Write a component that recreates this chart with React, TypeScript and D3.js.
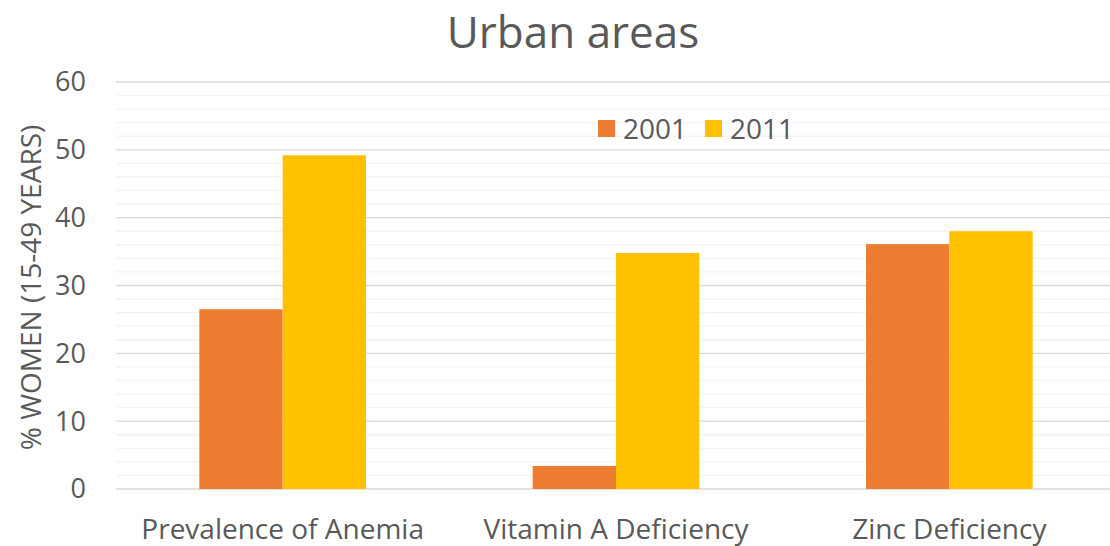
import React, { useEffect, useRef } from 'react';
import * as d3 from 'd3';

const categories = ['Prevalence of Anemia', 'Vitamin A Deficiency', 'Zinc Deficiency'];
const seriesNames = ['2001', '2011'];
const values2001 = [26.5, 3.4, 36.1];
const values2011 = [49.2, 34.8, 38.0];
const yTicks = [0, 10, 20, 30, 40, 50, 60];
const colors = ['#ed7d31', '#ffc000'];

const App = () => {
  const ref = useRef<SVGSVGElement>(null);

  useEffect(() => {
    const width = 1110;
    const height = 546;
    const margin = { top: 82, left: 116, bottom: 57, right: -6 };
    const iwidth = width - margin.left - margin.right;
    const iheight = height - margin.top - margin.bottom;
    const font = 'Open Sans, sans-serif';
    const textColor = '#595959';

    const svg = d3.select(ref.current);
    svg.selectAll('*').remove();
    svg.attr('width', width).attr('height', height);

    const g = svg.append('g').attr('transform', `translate(${margin.left},${margin.top})`);

    const y = d3.scaleLinear().domain([0, 60]).range([iheight, 0]);
    const x = d3.scaleBand().domain(categories).range([0, iwidth]).paddingInner(0.5).paddingOuter(0.25);
    const xs = d3.scaleBand().domain(seriesNames).range([0, x.bandwidth()]);

    // minor gridlines
    g.selectAll('line.minor')
      .data(d3.range(0, 61, 2).filter((v) => v % 10 !== 0))
      .enter()
      .append('line')
      .attr('x1', 0)
      .attr('x2', iwidth)
      .attr('y1', (d) => y(d))
      .attr('y2', (d) => y(d))
      .attr('stroke', '#f2f2f2')
      .attr('stroke-width', 1.3);

    // major gridlines
    g.selectAll('line.major')
      .data(yTicks)
      .enter()
      .append('line')
      .attr('x1', 0)
      .attr('x2', iwidth)
      .attr('y1', (d) => y(d))
      .attr('y2', (d) => y(d))
      .attr('stroke', '#d9d9d9')
      .attr('stroke-width', 1.3);

    const rows = categories.map((c, i) => ({ c, vals: [values2001[i], values2011[i]] }));
    const groups = g.selectAll('g.grp').data(rows).enter().append('g')
      .attr('transform', (d) => `translate(${x(d.c)},0)`);
    groups.selectAll('rect')
      .data((d) => d.vals.map((v, j) => ({ v, s: seriesNames[j], j })))
      .enter()
      .append('rect')
      .attr('x', (d) => xs(d.s)!)
      .attr('y', (d) => y(d.v))
      .attr('width', xs.bandwidth())
      .attr('height', (d) => iheight - y(d.v))
      .attr('fill', (d) => colors[d.j]);

    // y tick labels
    g.selectAll('text.ytick')
      .data(yTicks)
      .enter()
      .append('text')
      .attr('x', -30)
      .attr('y', (d) => y(d))
      .attr('dy', '0.35em')
      .attr('text-anchor', 'end')
      .attr('font-family', font)
      .attr('font-size', 27)
      .attr('fill', textColor)
      .text((d) => d);

    // x labels
    g.selectAll('text.xlab')
      .data(categories)
      .enter()
      .append('text')
      .attr('x', (d) => x(d)! + x.bandwidth() / 2)
      .attr('y', iheight + 50)
      .attr('text-anchor', 'middle')
      .attr('font-family', font)
      .attr('font-size', 28)
      .attr('fill', textColor)
      .text((d) => d);

    // y axis title
    svg.append('text')
      .attr('transform', `translate(41,${margin.top + iheight / 2 + 2}) rotate(-90)`)
      .attr('text-anchor', 'middle')
      .attr('font-family', font)
      .attr('font-size', 28)
      .attr('fill', textColor)
      .text('% WOMEN (15-49 YEARS)');

    // title
    svg.append('text')
      .attr('x', 573)
      .attr('y', 48)
      .attr('text-anchor', 'middle')
      .attr('font-family', font)
      .attr('font-size', 44)
      .attr('fill', textColor)
      .text('Urban areas');

    // legend
    const legend = svg.append('g').attr('transform', 'translate(598,120)');
    const items = legend.selectAll('g').data(seriesNames).enter().append('g')
      .attr('transform', (d, i) => `translate(${i * 107},0)`);
    items.append('rect').attr('width', 17).attr('height', 17).attr('fill', (d, i) => colors[i]);
    items.append('text')
      .attr('x', 25)
      .attr('y', 9)
      .attr('dy', '0.35em')
      .attr('font-family', font)
      .attr('font-size', 28)
      .attr('fill', textColor)
      .text((d) => d);
  });

  return (
    <div style={{ position: 'absolute', left: 0, top: 0 }}>
      <svg ref={ref} style={{ display: 'block' }}></svg>
    </div>
  );
};

export default App;
